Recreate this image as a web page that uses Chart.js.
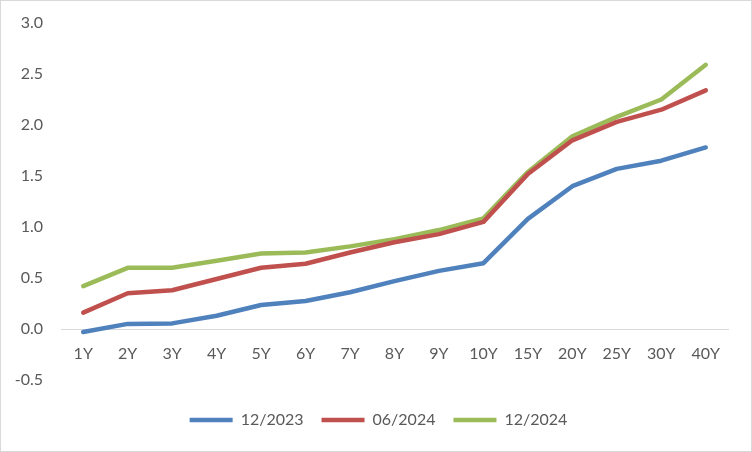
<!DOCTYPE html>
<html>
<head>
<meta charset="utf-8">
<script src="https://cdn.jsdelivr.net/npm/chart.js@4/dist/chart.umd.min.js"></script>
<style>
  html, body { margin: 0; padding: 0; background: #fff; }
  .wrap { width: 752px; height: 452px; box-sizing: border-box; border: 1px solid #d9d9d9; }
  #myChart { display: block; }
</style>
</head>
<body>
<div class="wrap"><canvas id="myChart" width="750" height="450"></canvas></div>
<script>
// 年限
const tenors = ['1Y', '2Y', '3Y', '4Y', '5Y', '6Y', '7Y', '8Y', '9Y', '10Y', '15Y', '20Y', '25Y', '30Y', '40Y'];
// 利回り
const dec2023 = [-0.03, 0.05, 0.055, 0.13, 0.235, 0.275, 0.36, 0.47, 0.57, 0.645, 1.08, 1.40, 1.57, 1.65, 1.78];
const jun2024 = [0.16, 0.35, 0.38, 0.49, 0.60, 0.64, 0.75, 0.85, 0.93, 1.05, 1.52, 1.85, 2.03, 2.15, 2.34];
const dec2024 = [0.42, 0.60, 0.60, 0.67, 0.74, 0.75, 0.81, 0.88, 0.97, 1.085, 1.54, 1.89, 2.08, 2.25, 2.59];
const yTicks = [-0.5, 0.0, 0.5, 1.0, 1.5, 2.0, 2.5, 3.0];

const textColor = '#595959';
const fontFamily = 'Lato, "Open Sans", sans-serif';

function line(label, data, color) {
    return {
        label: label,
        data: data,
        borderColor: color,
        backgroundColor: color,
        borderWidth: 4.5,
        borderCapStyle: 'round',
        borderJoinStyle: 'round',
        pointRadius: 0,
        pointHoverRadius: 0,
        tension: 0
    };
}

// 凡例を少し右へずらす
const legendShift = {
    id: 'legendShift',
    afterLayout(chart) {
        chart.legend.left += 14;
        chart.legend.right += 14;
    }
};

let ctx = document.getElementById('myChart').getContext('2d');
new Chart(ctx, {
    type: 'line',
    data: {
        labels: tenors,
        datasets: [
            line('12/2023', dec2023, '#4F81BD'),
            line('06/2024', jun2024, '#C0504D'),
            line('12/2024', dec2024, '#9BBB59')
        ]
    },
    plugins: [legendShift],
    options: {
        responsive: false,
        animation: false,
        layout: { padding: { top: 22, right: 23, bottom: 13, left: 0 } },
        scales: {
            x: {
                position: { y: 0 },
                offset: true,
                grid: { display: true, color: 'transparent', drawTicks: false },
                border: { display: true, color: '#d9d9d9', width: 1 },
                afterFit: function(scale) {
                    scale.height = 0;
                },
                ticks: {
                    color: textColor,
                    font: { family: fontFamily, size: 16 },
                    padding: 15,
                    autoSkip: false,
                    maxRotation: 0
                }
            },
            y: {
                min: -0.5,
                max: 3.0,
                grid: { display: false, drawTicks: false },
                border: { display: false },
                afterBuildTicks: function(scale) {
                    scale.ticks = yTicks.map(v => ({ value: v }));
                },
                afterFit: function(scale) {
                    scale.width = 60;
                    scale.paddingTop = 0;
                    scale.paddingBottom = 0;
                },
                ticks: {
                    color: textColor,
                    font: { family: fontFamily, size: 16 },
                    padding: 18,
                    callback: v => Number(v).toFixed(1)
                }
            }
        },
        plugins: {
            legend: {
                position: 'bottom',
                title: { display: true, text: ' ', font: { size: 10, lineHeight: 1.4 }, padding: 0 },
                labels: {
                    color: textColor,
                    font: { family: fontFamily, size: 16 },
                    usePointStyle: true,
                    pointStyle: 'line',
                    pointStyleWidth: 43,
                    padding: 18
                }
            },
            tooltip: { enabled: false }
        }
    }
});
</script>
</body>
</html>
